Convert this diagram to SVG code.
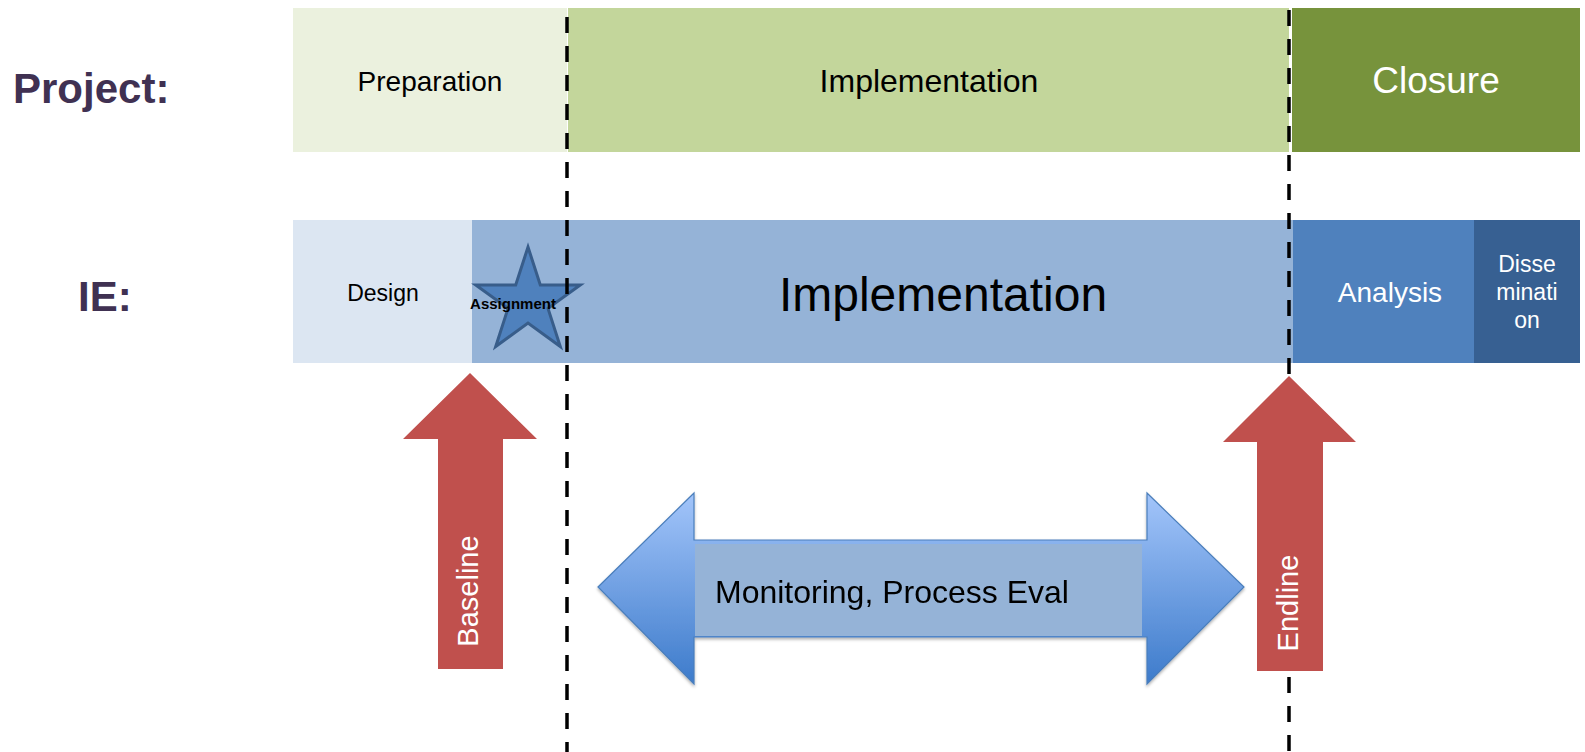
<svg xmlns="http://www.w3.org/2000/svg" width="1585" height="752" viewBox="0 0 1585 752">
<style>
text{font-family:"Liberation Sans",Arial,sans-serif;}
.lbl{font-weight:bold;fill:#403152;font-size:42px;}
.dk{fill:#000;text-anchor:middle;}
.wt{fill:#fff;text-anchor:middle;}
.red{fill:#c0504d;}
.dash{stroke:#000;stroke-width:3.5;stroke-dasharray:16 13;fill:none;}
</style>
<defs>
<linearGradient id="blueGrad" x1="0" y1="0" x2="0" y2="1">
<stop offset="0" stop-color="#a3c5fa"/>
<stop offset="1" stop-color="#3d7bcb"/>
</linearGradient>
<filter id="shadow" x="-5%" y="-5%" width="110%" height="120%">
<feDropShadow dx="0" dy="2" stdDeviation="1.5" flood-color="#000" flood-opacity="0.3"/>
</filter>
</defs>

<g id="label-project"><text class="lbl" x="13" y="103">Project:</text></g>
<g id="label-ie"><text class="lbl" x="78" y="311">IE:</text></g>

<g id="proj-preparation">
<rect x="293" y="8" width="274" height="144" fill="#ebf1de"/>
<text class="dk" x="430" y="91" font-size="28">Preparation</text>
</g>
<g id="proj-implementation">
<rect x="568" y="8" width="721" height="144" fill="#c3d69b"/>
<text class="dk" x="929" y="92" font-size="32">Implementation</text>
</g>
<g id="proj-closure">
<rect x="1292" y="8" width="288" height="144" fill="#77933c"/>
<text class="wt" x="1436" y="93" font-size="37">Closure</text>
</g>

<g id="ie-design">
<rect x="293" y="220" width="179" height="143" fill="#dce6f2"/>
<text class="dk" x="383" y="301" font-size="23">Design</text>
</g>
<g id="ie-implementation">
<rect x="472" y="220" width="821" height="143" fill="#95b3d7"/>
<text class="dk" x="943" y="311" font-size="48">Implementation</text>
</g>
<g id="ie-analysis">
<rect x="1293" y="220" width="181" height="143" fill="#4f81bd"/>
<text class="wt" x="1390" y="302" font-size="28">Analysis</text>
</g>
<g id="ie-dissemination">
<rect x="1474" y="220" width="106" height="143" fill="#376092"/>
<text class="wt" font-size="23"><tspan x="1527" y="272">Disse</tspan><tspan x="1527" y="300">minati</tspan><tspan x="1527" y="328">on</tspan></text>
</g>

<g id="assignment">
<polygon points="528,247 540.3,285 580.3,285 548,308.4 560.3,346.5 528,323 495.7,346.5 508,308.4 475.7,285 515.7,285" fill="#4f81bd" stroke="#385d8a" stroke-width="3" stroke-linejoin="miter"/>
<text x="513" y="309" font-size="15" font-weight="bold" text-anchor="middle" fill="#000">Assignment</text>
</g>

<g id="monitoring" filter="url(#shadow)">
<polygon points="598,587 694,493 694,540 1147,540 1147,493 1244,587 1147,684 1147,637 694,637 694,684" fill="url(#blueGrad)" stroke="#4a7ebb" stroke-width="1.2"/>
<rect x="695" y="544" width="447" height="92" fill="#95b3d7"/>
<text x="715" y="603" font-size="32" fill="#000">Monitoring, Process Eval</text>
</g>

<g id="connectors">
<line class="dash" x1="567" y1="17" x2="567" y2="752"/>
<line class="dash" x1="1289" y1="10" x2="1289" y2="752"/>
</g>

<g id="baseline">
<polygon class="red" points="470,373 537,439 503,439 503,669 438,669 438,439 403,439"/>
<text class="wt" transform="translate(478,591) rotate(-90)" font-size="29">Baseline</text>
</g>
<g id="endline">
<polygon class="red" points="1289,376 1356,442 1323,442 1323,671 1257,671 1257,442 1223,442"/>
<text class="wt" transform="translate(1298,603) rotate(-90)" font-size="29">Endline</text>
</g>
</svg>
